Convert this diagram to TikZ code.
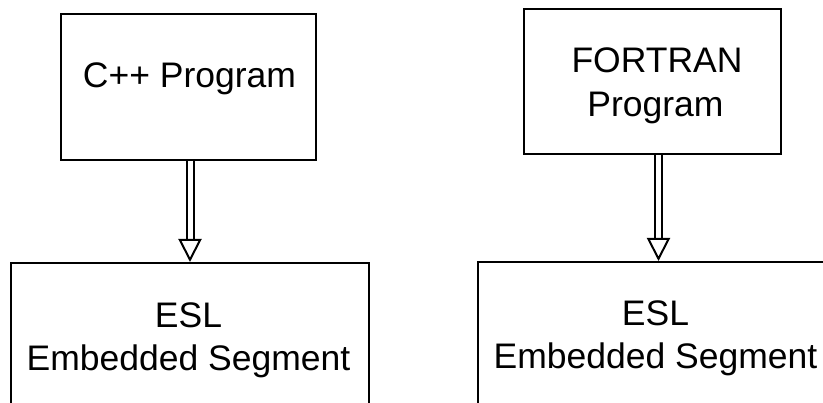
\documentclass[tikz,border=0pt]{standalone}
\usepackage{fontspec}
\setmainfont{Liberation Sans}
\usetikzlibrary{arrows.meta}

\tikzset{
  box/.style={draw, line width=2pt, minimum width=#1, inner sep=0pt},
  boxtext/.style={anchor=base, font=\fontsize{35.5}{40}\selectfont, inner sep=0pt},
  flow/.style={draw, line width=2pt, double, double distance=5pt,
    -{Triangle[open, length=23pt, width=23pt]}}
}

\begin{document}
\begin{tikzpicture}[x=1pt, y=-1pt, line join=miter]
\useasboundingbox (0,0) rectangle (823,403);
\clip (0,0) rectangle (823,403);
% left column
\node[box=255pt, minimum height=146pt] (cpp) at (188.5,87) {};
\node[boxtext] (cpptxt) at (189.5,88) {C++ Program};
\node[box=358pt, minimum height=200pt] (eslL) at (190,363) {};
\node[boxtext] (eslLa) at (188.5,328) {ESL};
\node[boxtext] (eslLb) at (188.5,371) {Embedded Segment};
\draw[flow] (eslL.north |- cpp.south) -- (eslL.north);
% right column
\node[box=257pt, minimum height=145pt] (fortran) at (652.5,81.5) {};
\node[boxtext] (fortxta) at (657,73) {FORTRAN};
\node[boxtext] (fortxtb) at (655.5,117) {Program};
\node[box=361pt, minimum height=200pt] (eslR) at (658.5,362) {};
\node[boxtext] (eslRa) at (655.5,326) {ESL};
\node[boxtext] (eslRb) at (655.5,369) {Embedded Segment};
\draw[flow] (eslR.north |- fortran.south) -- (eslR.north);
\end{tikzpicture}
\end{document}
